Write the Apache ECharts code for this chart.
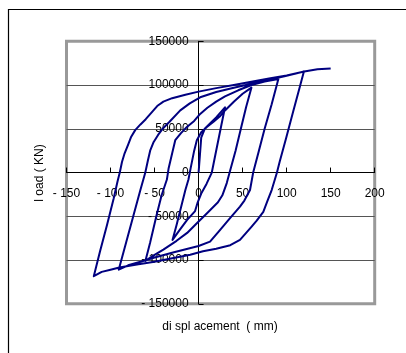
<!DOCTYPE html>
<html>
<head>
<meta charset="utf-8">
<script src="https://cdn.jsdelivr.net/npm/echarts@6/dist/echarts.min.js"></script>
<style>
html,body{margin:0;padding:0;background:#fff;}
#chart{width:406px;height:353px;}
</style>
</head>
<body>
<div id="chart"></div>
<script>
// Tick labels
const xTickValues = [-150, -100, -50, 0, 50, 100, 150, 200];
const xTickLabels = ['- 150', '- 100', '- 50', '0', '50', '100', '150', '200'];
const yTickValues = [-150000, -100000, -50000, 0, 50000, 100000, 150000];
const yTickLabels = ['- 150000', '- 100000', '- 50000', '0', '50000', '100000', '150000'];

// Load-displacement branches [displacement (mm), load (KN)]
const initialLoad = [[0,0],[1.5,20000],[3,40000],[7,50000],[13,56000],[20,63000],[30,74500]];
const unload30 = [[30,74500],[26,55000],[21,30000],[17,10000],[15,0],[9,-13000],[3,-24000],[-1,-34000],[-4,-44000],[-13,-54000],[-21,-65000],[-29.6,-77000]];
const reload30 = [[-29.6,-77000],[-25,-60000],[-20,-40000],[-15,-20000],[-11.5,-8000],[-9,5000],[-5,25000],[-2,37000],[3,46000],[9.4,52000],[17,58000],[24,64000],[30,71000],[40,81000],[50,90000],[60,97000]];
const unload60 = [[60,97000],[54,75000],[48,50000],[42,25000],[36,3000],[32,-12000],[27,-26000],[22,-34000],[9,-47000],[0,-56000],[-13,-69000],[-25,-78000],[-40,-88000],[-50,-94000],[-60.4,-101000]];
const reload60 = [[-60.4,-101000],[-55,-80000],[-48,-50000],[-42,-26000],[-36,-8000],[-34,5000],[-30,22000],[-26.5,37000],[-20,45000],[-13.3,52000],[-5,59000],[1.8,67000],[10,74000],[20,81000],[30,87000],[45,94000],[60,100000],[75,104000],[90.6,107000]];
const unload90 = [[90.6,107000],[83,78000],[75,50000],[68.5,25000],[62,0],[58.4,-20000],[52,-32000],[47,-39000],[35,-53000],[24,-66000],[13,-79000],[0,-84000],[-28,-91000],[-50,-97000],[-66,-102000],[-80,-106000],[-90.7,-111000]];
const reload90 = [[-90.7,-111000],[-82.3,-80000],[-74.2,-50000],[-66.1,-20000],[-60.5,0],[-57.5,14000],[-55,25000],[-51,35000],[-46,43000],[-40,51000],[-33,58000],[-20.8,71000],[-10,79000],[1.8,86000],[20,92000],[40,97000],[60,101500],[80,106000],[100,110500],[119.6,115500]];
const unload120 = [[119.6,115500],[115,98000],[107.5,70000],[99.6,40000],[92,12000],[89,0],[86,-10000],[83,-20000],[78,-33000],[73.5,-45000],[66,-55000],[60,-62000],[53,-70000],[47,-77000],[36,-83000],[20,-87000],[5,-90000],[-9.5,-94000],[-30,-98000],[-50,-102000],[-70,-105000],[-90,-108500],[-100,-111000],[-110,-113500],[-119,-118500]];
const reload120 = [[-119,-118500],[-111.9,-90000],[-104,-60000],[-96.5,-30000],[-92,-10000],[-89.5,0],[-87,12000],[-84,22000],[-80,32000],[-76.5,41000],[-72,48500],[-66,55000],[-60,61000],[-53,69000],[-47,76000],[-40,81000],[-30,85000],[-15,89000],[0,92500],[20,96500],[40,100000],[58.4,103500],[80,107500],[100,111000],[120,115500],[135,118000],[150,119000]];

const curve = [].concat(initialLoad, unload30, reload30, unload60, reload60, unload90, reload90, unload120, reload120);

const FONT = 'Liberation Sans';
function lookup(values, labels, v) {
  const i = values.indexOf(v);
  return i >= 0 ? labels[i] : '';
}

const G = {left: 66.5, top: 41.3, right: 31.3, bottom: 49.2};
const plotW = 406 - G.left - G.right;
const plotH = 353 - G.top - G.bottom;
const xMin = -150, xMax = 200, yMin = -150000, yMax = 150000;
// shift axes so they cross at zero
const xAxisOffset = -plotH * (0 - yMin) / (yMax - yMin);
const yAxisOffset = -plotW * (0 - xMin) / (xMax - xMin);

const chart = echarts.init(document.getElementById('chart'), null, {renderer: 'canvas'});
chart.setOption({
  animation: false,
  backgroundColor: '#fff',
  grid: {
    left: G.left, top: G.top, right: G.right, bottom: G.bottom,
    show: true, borderColor: '#999', borderWidth: 3, backgroundColor: 'transparent'
  },
  xAxis: {
    type: 'value', min: xMin, max: xMax, interval: 50,
    position: 'bottom', offset: xAxisOffset,
    axisLine: {onZero: false, lineStyle: {color: '#000', width: 1}},
    axisTick: {show: true, inside: true, length: 5, lineStyle: {color: '#000'}},
    axisLabel: {margin: 15, fontSize: 12, fontFamily: FONT, color: '#000',
      formatter: v => lookup(xTickValues, xTickLabels, v)},
    splitLine: {show: false}
  },
  yAxis: {
    type: 'value', min: yMin, max: yMax, interval: 50000,
    position: 'left', offset: yAxisOffset,
    axisLine: {onZero: false, lineStyle: {color: '#000', width: 1}},
    axisTick: {show: true, inside: true, length: 5, lineStyle: {color: '#000'}},
    axisLabel: {margin: 10, fontSize: 12, fontFamily: FONT, color: '#000',
      formatter: v => lookup(yTickValues, yTickLabels, v)},
    splitLine: {show: true, showMinLine: false, showMaxLine: false, lineStyle: {color: '#555', width: 1}}
  },
  graphic: [
    {type: 'rect', shape: {x: 8.5, y: 9.5, width: 420, height: 400}, style: {fill: 'none', stroke: '#000', lineWidth: 1.2}, silent: true},
    {type: 'text', x: 40, y: 173, rotation: Math.PI / 2,
      style: {text: 'l oad ( KN)', font: '12px "Liberation Sans"', fill: '#000', textAlign: 'center', textVerticalAlign: 'middle'}},
    {type: 'text', x: 220, y: 327,
      style: {text: 'di spl acement  ( mm)', font: '12px "Liberation Sans"', fill: '#000', textAlign: 'center', textVerticalAlign: 'middle'}}
  ],
  series: [{
    type: 'line',
    data: curve,
    showSymbol: false,
    smooth: false,
    lineStyle: {color: '#000080', width: 2, join: 'round'},
    z: 3
  }]
});
</script>
</body>
</html>
